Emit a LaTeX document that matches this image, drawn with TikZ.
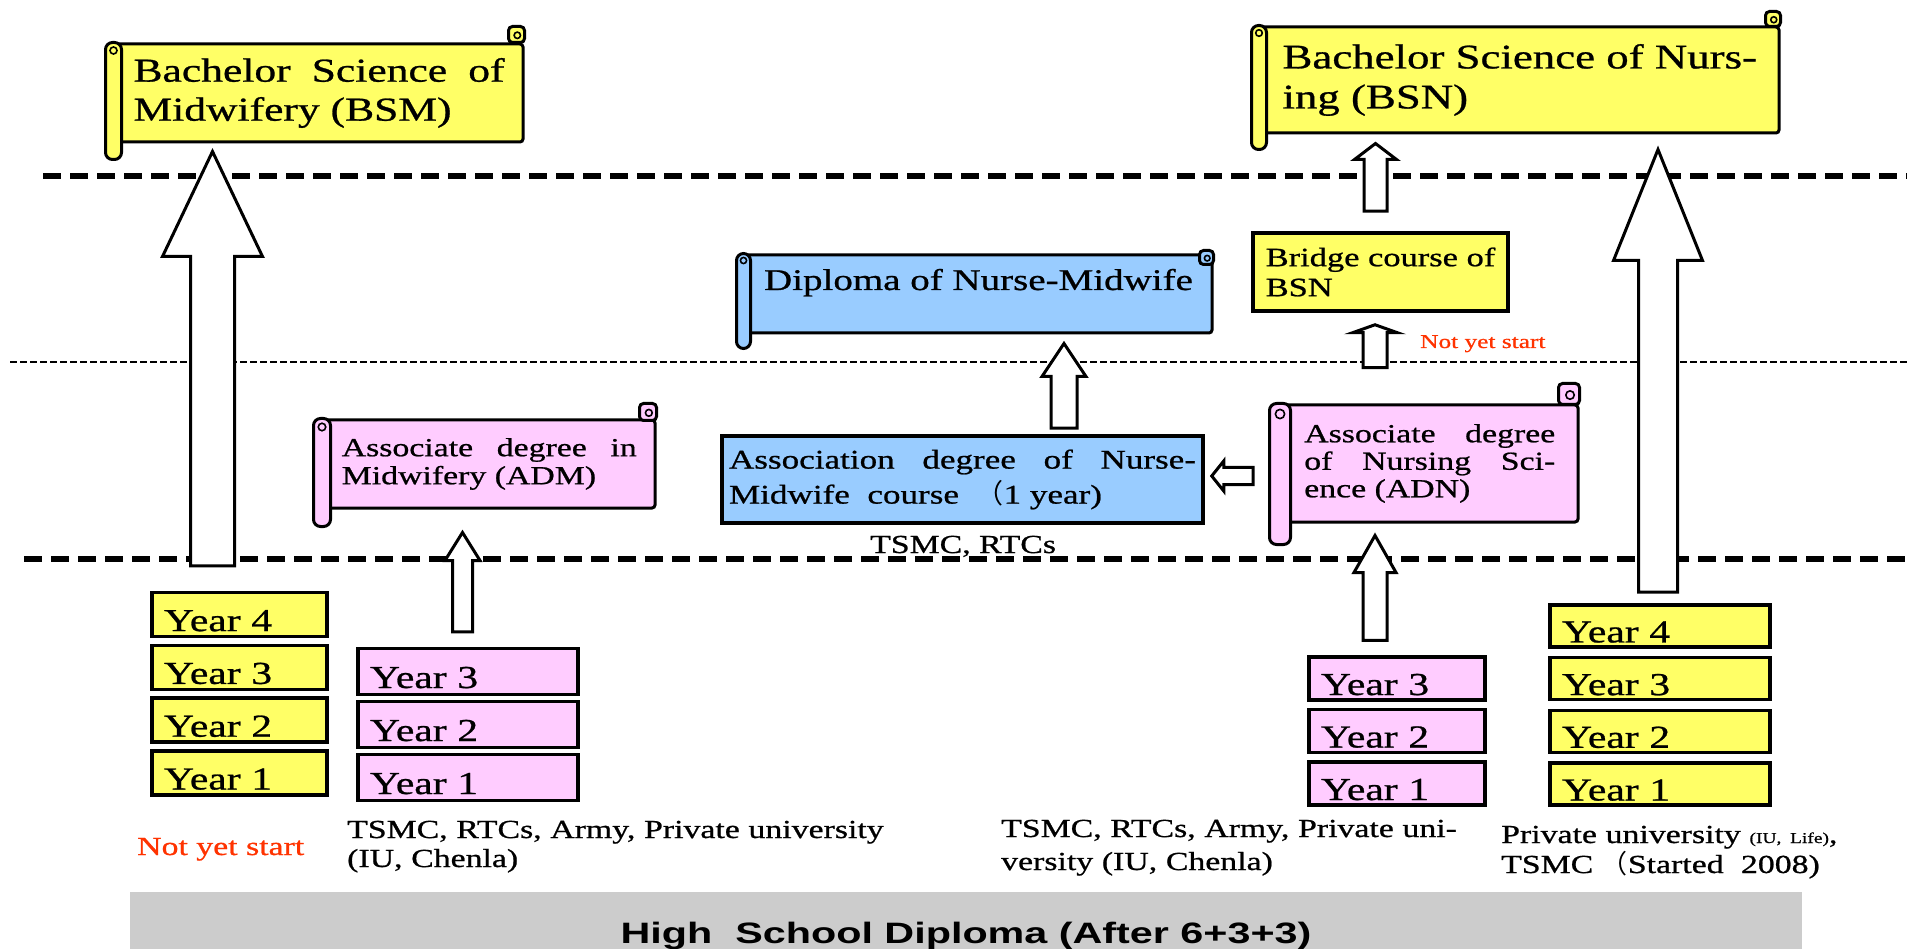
\documentclass[tikz,border=0pt]{standalone}
\usepackage{fontspec}
\setmainfont{Liberation Serif}[FakeStretch=1.3, FakeBold=0.8]
\newfontfamily\barfont{Liberation Sans}[FakeStretch=1.4]
\newfontfamily\cjk{Noto Sans CJK SC}
\usetikzlibrary{calc}

\definecolor{scrollyellow}{HTML}{FFFF66}
\definecolor{scrollpink}{HTML}{FFCCFF}
\definecolor{scrollblue}{HTML}{99CCFF}
\definecolor{notyet}{HTML}{FF3300}
\definecolor{bargray}{HTML}{CCCCCC}

\tikzset{
  scrollline/.style={draw, line width=3pt},
  scrollbody/.style={scrollline, fill=#1, rounded corners=3pt, inner ysep=0pt},
  plainbox/.style={draw, line width=3.5pt, fill=#1, inner ysep=0pt},
  yearbox/.style={draw, line width=3.5pt, fill=#1, inner xsep=12pt, inner ysep=0pt,
    text height=33pt, text depth=0pt, align=left, font=\fontsize{32}{32}\selectfont},
  hollow/.style={draw, line width=3pt, fill=white},
  levelline/.style={line width=5.5pt, dash pattern=on 18pt off 9pt},
  thinlevel/.style={line width=2.3pt, dash pattern=on 7pt off 3pt},
  note/.style={inner sep=0pt, anchor=base west, align=left, font=\fontsize{26}{29}\selectfont}
}

% roll on the left and curled tab on the right of a scroll body
\newcommand{\scrollparts}[4]{%
  \draw[scrollline, fill=#2, rounded corners=4pt]
    ($(#1.north east)+(-#3,-#4)$) rectangle ($(#1.north east)+(0,#3-#4)$);
  \draw[line width=1.6pt] ($(#1.north east)+(-0.45*#3,0.55*#3-#4)$) circle (0.2*#3);
  \draw[scrollline, fill=#2, rounded corners=7pt]
    ($(#1.north west)+(-0.5*#3,0)$) rectangle ($(#1.south west)+(0.5*#3,#3)$);
  \draw[line width=1.6pt] ($(#1.north west)+(0,0.5*#3)$) circle (0.22*#3);
}
% hollow block arrow: foot, tip, shaft half width, head half width, head length
\newcommand{\blockarrow}[5]{%
  \coordinate (hb) at ($(#2)!#5!(#1)$);
  \draw[hollow] ($(#1)!#3!90:(#2)$) -- ($(hb)!#3!90:(#2)$) -- ($(hb)!#4!90:(#2)$) -- (#2)
    -- ($(hb)!#4!-90:(#2)$) -- ($(hb)!#3!-90:(#2)$) -- ($(#1)!#3!-90:(#2)$) -- cycle;
}

\begin{document}
\begin{tikzpicture}[x=1pt,y=-1pt]
  \path[use as bounding box, fill=white] (0,0) rectangle (1907,949);
  \draw[levelline] (43,176) -- (1907,176);
  \draw[thinlevel] (10,362) -- (1907,362);
  \draw[levelline] (24,559) -- (1907,559);

  % scrolls
  \node[scrollbody=scrollyellow, text width=371pt, inner xsep=18.5pt, minimum height=98pt,
    align=justify, font=\fontsize{33.5}{39}\selectfont] (bsm) at (319,93)
    {Bachelor Science of\linebreak Midwifery (BSM)};
  \scrollparts{bsm}{scrollyellow}{16}{16}
  \node[scrollbody=scrollyellow, minimum width=518.5pt, minimum height=106pt,
    align=left, font=\fontsize{34.5}{40}\selectfont] (bsn) at (1519.75,80)
    {Bachelor Science of Nurs-\\ing (BSN)};
  \scrollparts{bsn}{scrollyellow}{15}{14}
  \node[scrollbody=scrollblue, minimum width=467pt, minimum height=78pt,
    text height=21pt, text depth=29pt, font=\fontsize{30}{34}\selectfont] (dip) at (978.5,294)
    {Diploma of Nurse-Midwife};
  \scrollparts{dip}{scrollblue}{14}{3}
  \node[scrollbody=scrollpink, text width=295pt, inner xsep=18.25pt, minimum height=88pt,
    align=justify, font=\fontsize{26}{28}\selectfont] (adm) at (489.25,464)
    {Associate degree in\linebreak Midwifery (ADM)};
  \scrollparts{adm}{scrollpink}{17}{15}
  \node[scrollbody=scrollpink, text width=251pt, inner xsep=22.75pt, minimum height=117pt,
    align=justify, font=\fontsize{26}{27.5}\selectfont] (adn) at (1429.75,463.5)
    {Associate degree\linebreak of Nursing Sci-\linebreak ence (ADN)};
  \scrollparts{adn}{scrollpink}{21}{20}

  % plain boxes
  \node[plainbox=scrollblue, text width=467pt, inner xsep=7pt, minimum height=87pt,
    align=justify, font=\fontsize{27}{35}\selectfont] (assoc) at (962.5,479.5)
    {Association degree of Nurse-\linebreak Midwife\ \ course\ \ {\cjk （}1 year)};
  \node[plainbox=scrollyellow, minimum width=255pt, minimum height=78pt,
    align=left, font=\fontsize{26.5}{30}\selectfont] (bridge) at (1380.5,272)
    {Bridge course of\\BSN};

  % study years
  \foreach \n in {1,...,4}
    \node[yearbox=scrollyellow, text width=151pt, minimum height=44pt] (ly\n) at (239.5,{773-52.8*(\n-1)}) {Year \n};
  \foreach \n in {1,2,3}
    \node[yearbox=scrollpink, text width=196pt, minimum height=46pt] (my\n) at (468,{777.5-53*(\n-1)}) {Year \n};
  \foreach \n in {1,2,3}
    \node[yearbox=scrollpink, text width=152pt, minimum height=43pt] (ny\n) at (1397,{783.5-52.5*(\n-1)}) {Year \n};
  \foreach \n in {1,...,4}
    \node[yearbox=scrollyellow, text width=196pt, minimum height=42pt] (ry\n) at (1660,{784-52.7*(\n-1)}) {Year \n};

  % labels
  \node[note, font=\fontsize{26}{26}\selectfont] (tsmcmid) at (870,553) {TSMC, RTCs};
  \node[note, text=notyet] (nysleft) at (137,855) {Not yet start};
  \node[note, text=notyet, font=\fontsize{19.5}{20}\selectfont] (nysbsn) at (1420,348) {Not yet start};
  \node[note, text width=560pt] (lblleft) at (347,838)
    {TSMC, RTCs, Army, Private university\\(IU, Chenla)};
  \node[note, text width=480pt, font=\fontsize{26}{33}\selectfont] (lblmid) at (1001,837)
    {TSMC, RTCs, Army, Private uni-\\versity (IU, Chenla)};
  \node[note, text width=390pt, font=\fontsize{26}{30}\selectfont] (lblright) at (1501,843)
    {Private university {\fontsize{15}{15}\selectfont(IU, Life)},\\TSMC\ {\cjk （}Started\ \ 2008)};
  \node[fill=bargray, minimum width=1672pt, minimum height=57pt, inner sep=0pt,
    text height=45pt, text depth=0pt, font=\barfont\bfseries\fontsize{29.5}{30}\selectfont]
    (hsd) at (966,920.5) {High\ \ School Diploma (After 6+3+3)};

  % arrows
  \coordinate (bsmfoot) at ($(ly4.north)+(-27,-25)$);
  \coordinate (bsmtip) at ($(bsmfoot |- bsm.south)+(0,8)$);
  \blockarrow{bsmfoot}{bsmtip}{22pt}{50pt}{105pt}
  \coordinate (bsnfoot) at ($(ry4.north)+(-2,-11)$);
  \coordinate (bsntip) at ($(bsnfoot |- bsn.south)+(0,15)$);
  \blockarrow{bsnfoot}{bsntip}{19.5pt}{44.5pt}{111pt}
  \coordinate (brfoot) at ($(bridge.north)+(-5,-20)$);
  \coordinate (brtip) at ($(brfoot |- bsn.south)+(0,9)$);
  \blockarrow{brfoot}{brtip}{11.5pt}{21pt}{16pt}
  \coordinate (adnupfoot) at ($(bridge.south)+(-5.5,55)$);
  \coordinate (adnuptip) at ($(bridge.south)+(-5.5,12)$);
  \blockarrow{adnupfoot}{adnuptip}{12pt}{22.5pt}{8pt}
  \coordinate (dipfoot) at ($(assoc.north)+(101.5,-6)$);
  \coordinate (diptip) at ($(dipfoot |- dip.south)+(0,9)$);
  \blockarrow{dipfoot}{diptip}{13pt}{22pt}{33pt}
  \coordinate (assocfoot) at ($(adn.west)+(-27,12.5)$);
  \coordinate (assoctip) at ($(assoc.east |- assocfoot)+(7,0)$);
  \blockarrow{assocfoot}{assoctip}{8.5pt}{15pt}{12pt}
  \coordinate (admfoot) at ($(my3.north)+(-5.5,-15)$);
  \coordinate (admtip) at ($(admfoot |- adm.south)+(0,23)$);
  \blockarrow{admfoot}{admtip}{10pt}{17.5pt}{28pt}
  \coordinate (adnfoot) at ($(ny3.north)+(-22,-15)$);
  \coordinate (adntip) at ($(adnfoot |- adn.south)+(0,12)$);
  \blockarrow{adnfoot}{adntip}{12pt}{21pt}{37pt}
\end{tikzpicture}
\end{document}
